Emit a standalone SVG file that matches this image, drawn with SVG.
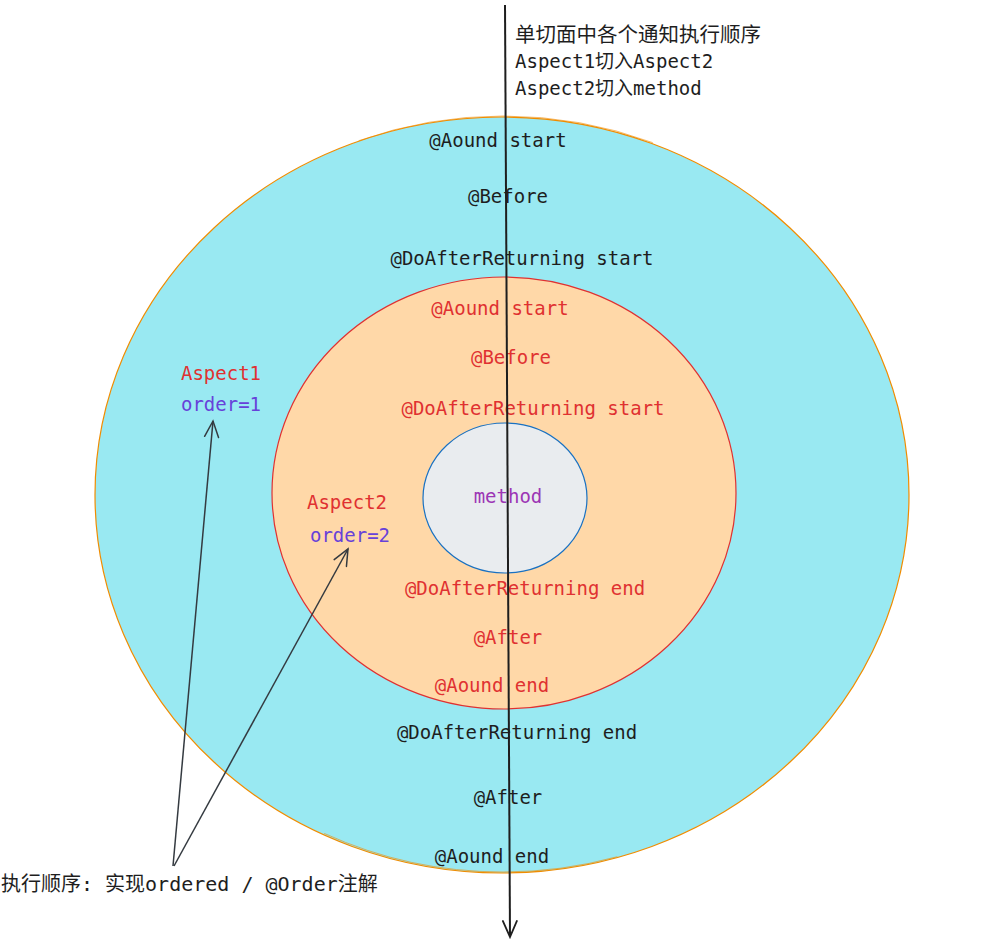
<svg xmlns="http://www.w3.org/2000/svg" width="1000" height="943" viewBox="0 0 1000 943">
<defs>
<marker id="open" viewBox="0 0 20 20" refX="18" refY="10" markerWidth="20" markerHeight="20" markerUnits="userSpaceOnUse" orient="auto">
<path d="M2 3 L18 10 L2 17" fill="none" stroke="#1e1e1e" stroke-width="1.8" stroke-linecap="round"/>
</marker>
<marker id="open2" viewBox="0 0 20 20" refX="18" refY="10" markerWidth="20" markerHeight="20" markerUnits="userSpaceOnUse" orient="auto">
<path d="M2 3 L18 10 L2 17" fill="none" stroke="#343a40" stroke-width="1.5" stroke-linecap="round"/>
</marker>
</defs>
<style>
text{font-family:"DejaVu Sans Mono","Liberation Mono","Noto Sans CJK SC",monospace;font-size:19px;text-anchor:middle}
.dk{fill:#1e1e1e}
.rd{fill:#e03131}
.pu{fill:#9c36b5}
.vi{fill:#6741d9}
.lt{text-anchor:start;fill:#1e1e1e}
</style>
<rect width="1000" height="943" fill="#ffffff"/>
<g id="aspect1">
<ellipse cx="502" cy="495" rx="407" ry="378" fill="#99e9f2" stroke="#f08c00" stroke-width="1.2"/>
<ellipse cx="503" cy="494" rx="406" ry="378" fill="none" stroke="#f08c00" stroke-width="0.6" stroke-dasharray="300 900" stroke-dashoffset="1900"/>
<text class="dk" x="498" y="147">@Aound start</text>
<text class="dk" x="508" y="203">@Before</text>
<text class="dk" x="522" y="265">@DoAfterReturning start</text>
<text class="dk" x="517" y="739">@DoAfterReturning end</text>
<text class="dk" x="508" y="804">@After</text>
<text class="dk" x="492" y="863">@Aound end</text>
<text class="rd" x="221" y="380">Aspect1</text>
<text class="vi" x="221" y="411">order=1</text>
</g>
<g id="aspect2">
<ellipse cx="504" cy="493" rx="232" ry="216" fill="#ffd8a8" stroke="#e03131" stroke-width="1.2"/>
<text class="rd" x="500" y="315">@Aound start</text>
<text class="rd" x="511" y="364">@Before</text>
<text class="rd" x="533" y="415">@DoAfterReturning start</text>
<text class="rd" x="525" y="595">@DoAfterReturning end</text>
<text class="rd" x="508" y="644">@After</text>
<text class="rd" x="492" y="692">@Aound end</text>
<text class="rd" x="347" y="509">Aspect2</text>
<text class="vi" x="350" y="542">order=2</text>
</g>
<g id="method">
<ellipse cx="505" cy="498" rx="82" ry="75" fill="#e9ecef" stroke="#1971c2" stroke-width="1.2"/>
<text class="pu" x="508" y="503">method</text>
</g>
<g id="title">
<text class="lt" x="515" y="42" style="font-size:20.5px">单切面中各个通知执行顺序</text>
<text class="lt" x="515" y="68">Aspect1切入Aspect2</text>
<text class="lt" x="515" y="95">Aspect2切入method</text>
</g>
<g id="note">
<text class="lt" x="1" y="891" style="font-size:20px">执行顺序: 实现ordered / @Order注解</text>
</g>
<g id="connectors">
<line x1="505" y1="5" x2="510" y2="937" stroke="#1e1e1e" stroke-width="2" marker-end="url(#open)"/>
<line x1="173" y1="866" x2="213" y2="421" stroke="#343a40" stroke-width="1.5" marker-end="url(#open2)"/>
<line x1="174" y1="866" x2="348" y2="549" stroke="#343a40" stroke-width="1.5" marker-end="url(#open2)"/>
</g>
</svg>
